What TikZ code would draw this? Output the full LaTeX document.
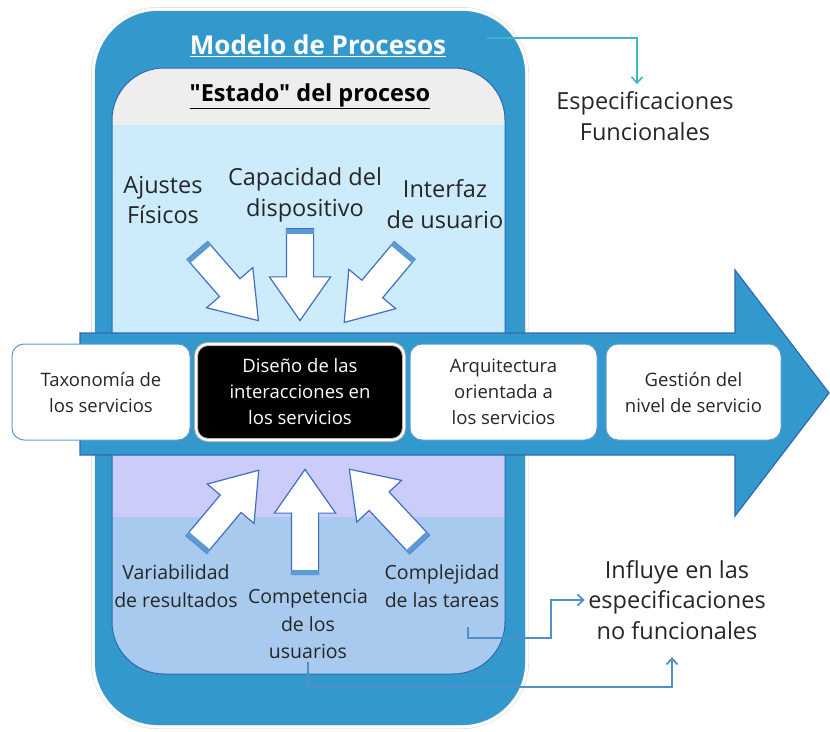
\documentclass[tikz,border=0pt]{standalone}
\usepackage{fontspec}
\setmainfont{Open Sans}[Ligatures = TeXOff]
\usepackage{xcolor}
\usetikzlibrary{positioning,shapes.arrows,arrows.meta,calc}

\definecolor{procblue}{RGB}{51,153,204}
\definecolor{procedge}{RGB}{46,104,180}
\definecolor{stategray}{RGB}{238,238,238}
\definecolor{statesky}{RGB}{204,236,252}
\definecolor{statelilac}{RGB}{204,204,250}
\definecolor{statesteel}{RGB}{168,202,238}
\definecolor{boxedge}{RGB}{91,155,213}
\definecolor{arrowline}{RGB}{62,112,192}
\definecolor{funcline}{RGB}{61,184,200}
\definecolor{nfline}{RGB}{79,143,204}

\tikzset{
  svcbox/.style = {rectangle, draw = boxedge, fill = white, line width = 1pt,
    rounded corners = 12pt, align = center, minimum height = 96pt,
    inner sep = 2pt, text = black!85, font = \fontsize{18.5}{26}\selectfont},
  blockarrow/.style = {single arrow, draw = arrowline, fill = white,
    line width = 1.2pt, inner xsep = 0pt, inner ysep = 13pt,
    single arrow head extend = 17pt, single arrow tip angle = 70,
    anchor = tail},
  arrowband/.style = {draw = boxedge, line width = 5pt},
  toplabel/.style = {align = center, text = black!85,
    font = \fontsize{23.5}{30.5}\selectfont},
  botlabel/.style = {align = center, text = black!85,
    font = \fontsize{19.5}{27.5}\selectfont},
  funcarrow/.style = {draw = funcline, line width = 1.6pt,
    -{Straight Barb[length=6pt, width=11pt]}},
  nfarrow/.style = {draw = nfline, line width = 1.8pt,
    -{Straight Barb[length=6pt, width=11pt]}}
}

\begin{document}
\begin{tikzpicture}[x = 1pt, y = -1pt]
  \useasboundingbox (0,0) rectangle (830,731);

  % process model frame
  \draw[fill = procblue, draw = gray!35, double = white,
    double distance = 3pt, rounded corners = 65pt] (93,9) rectangle (527,727);
  \begin{scope}
    \clip[rounded corners = 52pt] (112,68) rectangle (505,674);
    \fill[stategray] (112,68) rectangle (505,125);
    \fill[statesky] (112,125) rectangle (505,400);
    \fill[statelilac] (112,400) rectangle (505,517);
    \fill[statesteel] (112,517) rectangle (505,674);
  \end{scope}
  \draw[procedge, line width = 1pt, rounded corners = 52pt]
    (112,68) rectangle (505,674);

  \node[font = \bfseries\fontsize{26}{30}\selectfont, text = white]
    (modelo) at (318,46) {\underline{Modelo de Procesos}};
  \node[font = \bfseries\fontsize{23.5}{28}\selectfont, text = black]
    (estado) at (310,96) {\underline{"Estado" del proceso}};

  % main arrow
  \draw[fill = procblue, draw = procedge, line width = 1.2pt]
    (80,333) -- (735,333) -- (735,270) -- (829,393) -- (735,516)
    -- (735,455) -- (80,455) -- cycle;

  \node[svcbox, minimum width = 178pt] (taxonomia) at (101,392)
    {Taxonom\'ia de\\los servicios};
  \node[svcbox, right = 5pt of taxonomia, minimum width = 208pt,
    fill = black, text = white, draw = gray!60, double = white,
    double distance = 2pt] (diseno)
    {Dise\~no de las\\interacciones en\\los servicios};
  \node[svcbox, right = 5pt of diseno, minimum width = 187pt] (arquitectura)
    {Arquitectura\\orientada a\\los servicios};
  \node[svcbox, right = 8pt of arquitectura, minimum width = 175pt] (gestion)
    {Gesti\'on del\\nivel de servicio};

  % influences on the design
  \foreach \name/\x/\y/\ang/\len in {ajarrow/197/250/-49/93pt,
      caparrow/300/228/-90/92pt, intarrow/405/250/-130/94pt,
      vararrow/196/545/50/97pt, comparrow/305/575/90/105pt,
      cplarrow/420/545/133/103pt}
  {
    \node[blockarrow, rotate = \ang, minimum height = \len] (\name) at (\x,\y) {};
    \draw[arrowband] ($(\name.before tail)!3pt!(\name.after head)$)
      -- ($(\name.after tail)!3pt!(\name.before head)$);
  }

  \node[toplabel] (ajustes) at (163,200) {Ajustes\\F\'isicos};
  \node[toplabel] (capacidad) at (305,195) {Capacidad del\\dispositivo};
  \node[toplabel] (interfaz) at (445,204) {Interfaz\\de usuario};
  \node[botlabel] (variabilidad) at (176,586) {Variabilidad\\de resultados};
  \node[botlabel] (competencia) at (308,624) {Competencia\\de los\\usuarios};
  \node[botlabel] (complejidad) at (442,586) {Complejidad\\de las tareas};

  \node[toplabel] (funcionales) at (645,116) {Especificaciones\\Funcionales};
  \node[toplabel] (influye) at (677,600)
    {Influye en las\\especificaciones\\no funcionales};

  % connectors
  \coordinate (funcstart) at (487,38);
  \draw[funcarrow, shorten > = 4pt] (funcstart) -| ([xshift = -8pt]funcionales.north);
  \coordinate (tareasend) at (468,627);
  \draw[nfarrow] (tareasend) |- (551,638) |- (influye.west);
  \coordinate (nfcorner) at (672,687);
  \draw[nfarrow, shorten > = 14pt] (competencia.south) |- (nfcorner)
    -- (nfcorner |- influye.south);
\end{tikzpicture}
\end{document}
